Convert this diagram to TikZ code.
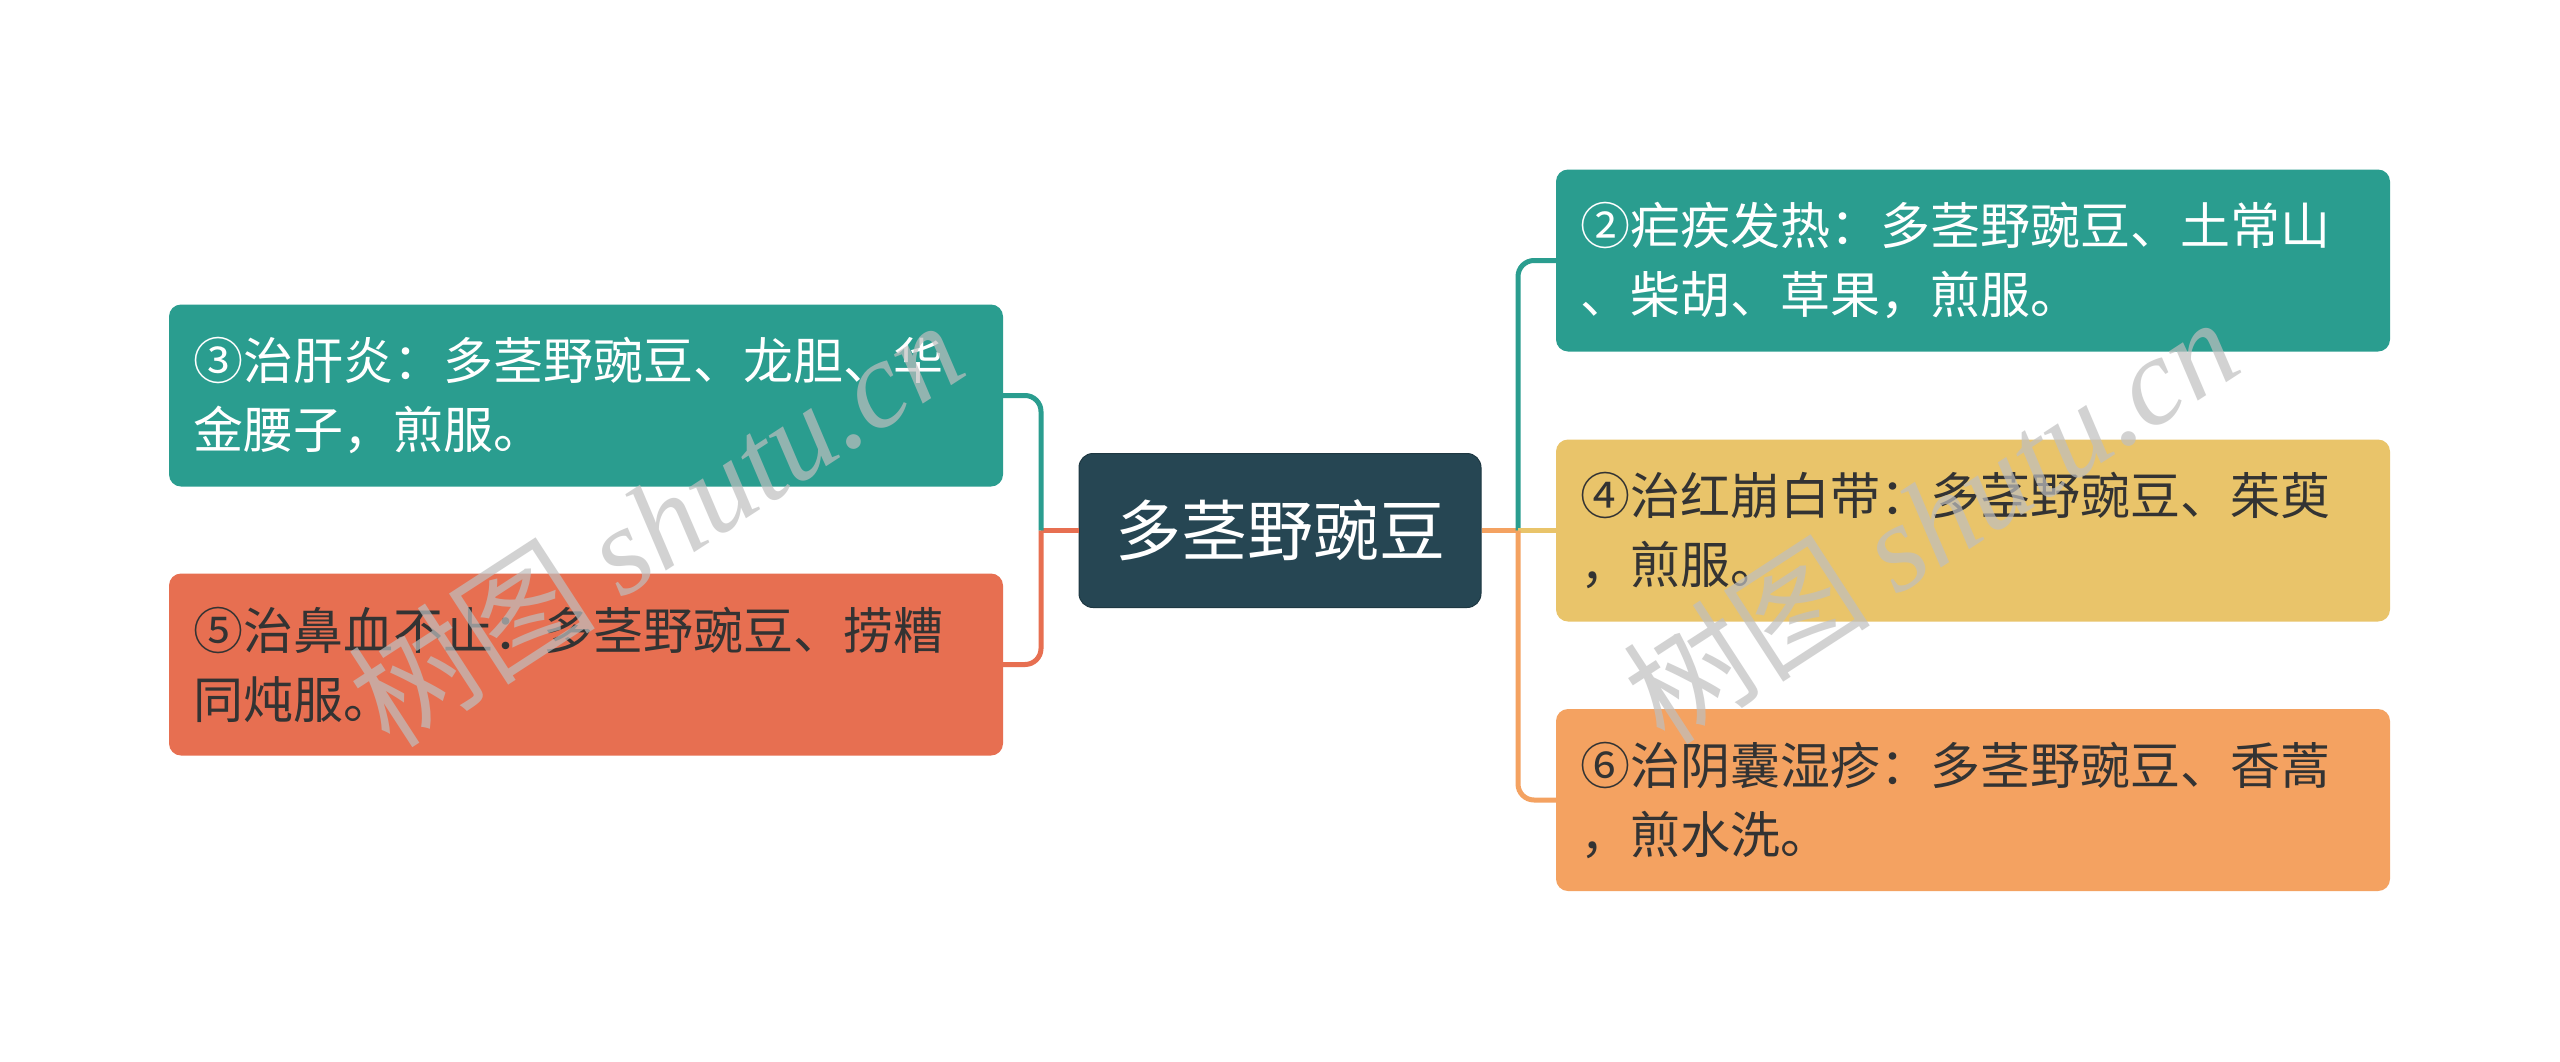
\documentclass[tikz,border=0pt]{standalone}
\usepackage{fontspec}
\newfontfamily\cjk{Noto Sans CJK SC}
\newfontfamily\wmserif{Liberation Serif}
\definecolor{cTeal}{HTML}{2A9D8F}
\definecolor{cYellow}{HTML}{E9C46A}
\definecolor{cOrange}{HTML}{F4A261}
\definecolor{cRed}{HTML}{E76F51}
\definecolor{cDark}{HTML}{264653}
\definecolor{cText}{HTML}{333333}
\begin{document}
\begin{tikzpicture}[x=1pt,y=-1pt,
  box/.style={rounded corners=12pt, inner xsep=24pt, inner ysep=0pt,
    text width=786pt, minimum height=182pt, align=left,
    font=\cjk\fontsize{50}{69}\selectfont},
  root/.style={rounded corners=14pt, fill=cDark, draw=cDark!80!black, line width=1pt,
    minimum width=402pt, minimum height=154pt, text=white, inner sep=0pt,
    font=\cjk\fontsize{66}{80}\selectfont},
  link/.style={line width=5pt},
  wm/.style={text=black!25, opacity=0.7, inner sep=0pt, font=\fontsize{124}{130}\selectfont}
]
\useasboundingbox[fill=white] (0,0) rectangle (2560,1061);

\node[root] (c) at (1280,530.5) {多茎野豌豆};

\node[box, fill=cTeal, text=white] (r1) at (1973,260.5) {②疟疾发热：多茎野豌豆、土常山\\、柴胡、草果，煎服。};
\node[box, fill=cYellow, text=cText] (r2) at (1973,530.5) {④治红崩白带：多茎野豌豆、茱萸\\，煎服。};
\node[box, fill=cOrange, text=cText] (r3) at (1973,800) {⑥治阴囊湿疹：多茎野豌豆、香蒿\\，煎水洗。};

\node[box, fill=cTeal, text=white] (l1) at (586,395.5) {③治肝炎：多茎野豌豆、龙胆、华\\金腰子，煎服。};
\node[box, fill=cRed, text=cText] (l2) at (586,664.5) {⑤治鼻血不止：多茎野豌豆、捞糟\\同炖服。};

\coordinate (jr) at (1518,530.5);
\coordinate (jl) at (1041,530.5);

\draw[link, cOrange] (c.east) -- (jr);
\draw[link, cTeal, rounded corners=16pt] (jr) |- (r1.west);
\draw[link, cYellow] (jr) -- (r2.west);
\draw[link, cOrange, rounded corners=16pt] (jr) |- (r3.west);

\draw[link, cRed] (c.west) -- (jl);
\draw[link, cTeal, rounded corners=16pt] (jl) |- (l1.east);
\draw[link, cRed, rounded corners=16pt] (jl) |- (l2.east);

\node[wm, rotate=33] (wm1) at (655,522) {\cjk 树图\ \wmserif\itshape shutu.cn};
\node[wm, rotate=33] (wm2) at (1930,519) {\cjk 树图\ \wmserif\itshape shutu.cn};
\end{tikzpicture}
\end{document}
